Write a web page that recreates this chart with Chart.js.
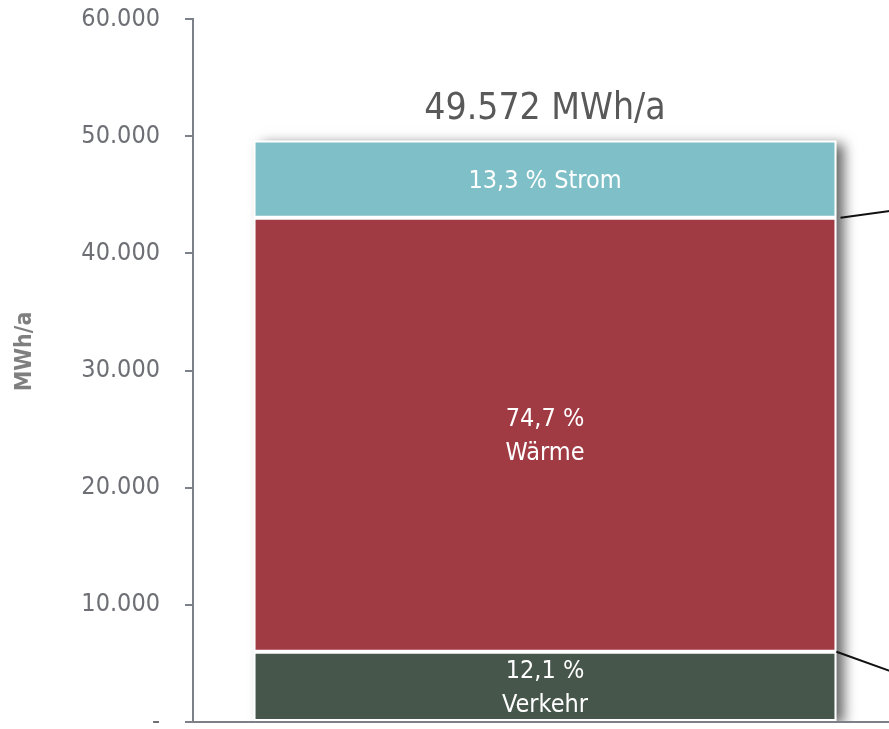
<!DOCTYPE html>
<html>
<head>
<meta charset="utf-8">
<script src="https://cdn.jsdelivr.net/npm/chart.js@4.4.1/dist/chart.umd.min.js"></script>
<style>
  html, body { margin: 0; padding: 0; background: #ffffff; }
  #wrap { width: 889px; height: 729px; overflow: hidden; }
</style>
</head>
<body>
<div id="wrap"><canvas id="c" width="897" height="729"></canvas></div>
<script>
// Endenergieverbrauch nach Sektoren (MWh/a)
const categories = ['Endenergie'];
const totalMWh = 49572;
const sectors = ['Verkehr', 'Wärme', 'Strom'];
const sharesPct = [12.1, 74.7, 13.3];
const sectorLabels = [['12,1 %', 'Verkehr'], ['74,7 %', 'Wärme'], ['13,3 % Strom']];
const sectorColors = ['#46564b', '#a03a43', '#7fbfc7'];
const yTickValues = [0, 10000, 20000, 30000, 40000, 50000, 60000];
const yAxisTitle = 'MWh/a';

const FONT = "'DejaVu Sans Condensed', 'DejaVu Sans', sans-serif";
const AXIS_GREY = '#7b8089';

function fmtDE(v) {
  return String(Math.round(v)).replace(/\B(?=(\d{3})+(?!\d))/g, '.');
}

// segment values derived from the stated shares of the total
const sectorValues = sharesPct.map(p => Math.round(totalMWh * p / 100));

// bounding box of the stacked column
function stackBox(chart) {
  let left = Infinity, right = -Infinity, top = Infinity, bottom = -Infinity;
  chart.data.datasets.forEach((ds, i) => {
    const el = chart.getDatasetMeta(i).data[0];
    if (!el) return;
    left = Math.min(left, el.x - el.width / 2);
    right = Math.max(right, el.x + el.width / 2);
    top = Math.min(top, el.y, el.base);
    bottom = Math.max(bottom, el.y, el.base);
  });
  return { left, right, top, bottom };
}

// drop shadow behind the column
const columnShadow = {
  id: 'columnShadow',
  beforeDatasetsDraw(chart) {
    const { ctx, chartArea } = chart;
    const b = stackBox(chart);
    ctx.save();
    ctx.beginPath();
    ctx.rect(chartArea.left, chartArea.top - 40, chart.width - chartArea.left, chartArea.bottom - chartArea.top + 39);
    ctx.clip();
    ctx.shadowColor = 'rgba(0,0,0,0.6)';
    ctx.shadowBlur = 12;
    ctx.shadowOffsetX = 8;
    ctx.shadowOffsetY = 3;
    ctx.fillStyle = '#ffffff';
    ctx.fillRect(b.left, b.top, b.right - b.left, b.bottom - b.top);
    ctx.restore();
  }
};

// segment labels, total above the column, axis title, connector lines
const columnText = {
  id: 'columnText',
  afterDatasetsDraw(chart) {
    const { ctx, chartArea } = chart;
    const b = stackBox(chart);
    ctx.save();
    ctx.textAlign = 'center';
    ctx.textBaseline = 'middle';

    chart.data.datasets.forEach((ds, i) => {
      const el = chart.getDatasetMeta(i).data[0];
      const cy = (el.y + el.base) / 2 + 2;
      const lines = sectorLabels[i];
      const lh = 34;
      ctx.fillStyle = '#ffffff';
      ctx.font = '25px ' + FONT;
      lines.forEach((t, k) => {
        ctx.fillText(t, el.x, cy + (k - (lines.length - 1) / 2) * lh);
      });
    });

    ctx.fillStyle = '#595959';
    ctx.font = '37px ' + FONT;
    ctx.fillText(fmtDE(totalMWh) + ' MWh/a', (b.left + b.right) / 2, b.top - 31);

    // rotated y-axis title
    ctx.save();
    ctx.translate(25, (chartArea.top + chartArea.bottom) / 2 - 19);
    ctx.rotate(-Math.PI / 2);
    ctx.fillStyle = '#7f7f7f';
    ctx.font = 'bold 23px ' + FONT;
    ctx.fillText(yAxisTitle, 0, 0);
    ctx.restore();

    // connectors at the segment boundaries
    const y1 = chart.getDatasetMeta(0).data[0].y; // Verkehr / Wärme
    const y2 = chart.getDatasetMeta(1).data[0].y; // Wärme / Strom
    ctx.strokeStyle = '#111111';
    ctx.lineWidth = 2;
    ctx.beginPath();
    ctx.moveTo(b.right + 4, y2);
    ctx.lineTo(b.right + 61, y2 - 8);
    ctx.moveTo(b.right, y1);
    ctx.lineTo(b.right + 61, y1 + 22);
    ctx.stroke();
    ctx.restore();
  }
};

new Chart(document.getElementById('c').getContext('2d'), {
  type: 'bar',
  data: {
    labels: categories,
    datasets: sectors.map((s, i) => ({
      label: s,
      data: [sectorValues[i]],
      backgroundColor: sectorColors[i],
      borderColor: '#ffffff',
      borderWidth: 2,
      borderSkipped: false,
      categoryPercentage: 1,
      barPercentage: 0.828
    }))
  },
  options: {
    responsive: false,
    animation: false,
    devicePixelRatio: 1,
    layout: { padding: { top: 19, bottom: 7, left: 0, right: 0 }, autoPadding: false },
    plugins: { legend: { display: false }, tooltip: { enabled: false } },
    scales: {
      x: {
        stacked: true,
        ticks: { display: false },
        grid: { display: false, drawTicks: false },
        border: { display: true, color: AXIS_GREY, width: 2 },
        afterFit(scale) { scale.height = 0; scale.paddingLeft = 0; scale.paddingRight = 0; }
      },
      y: {
        stacked: true,
        min: 0,
        max: 60000,
        afterBuildTicks(scale) { scale.ticks = yTickValues.map(v => ({ value: v })); },
        ticks: {
          padding: 25,
          color: '#6d6f74',
          font: { family: FONT, size: 25 },
          callback: v => v === 0 ? '-' : fmtDE(v)
        },
        grid: { display: true, drawOnChartArea: false, drawTicks: true, tickLength: 8, color: AXIS_GREY, lineWidth: 2 },
        border: { display: true, color: AXIS_GREY, width: 2 },
        title: { display: false },
        afterFit(scale) { scale.width = 193; scale.paddingTop = 0; scale.paddingBottom = 0; }
      }
    }
  },
  plugins: [columnShadow, columnText]
});
</script>
</body>
</html>
